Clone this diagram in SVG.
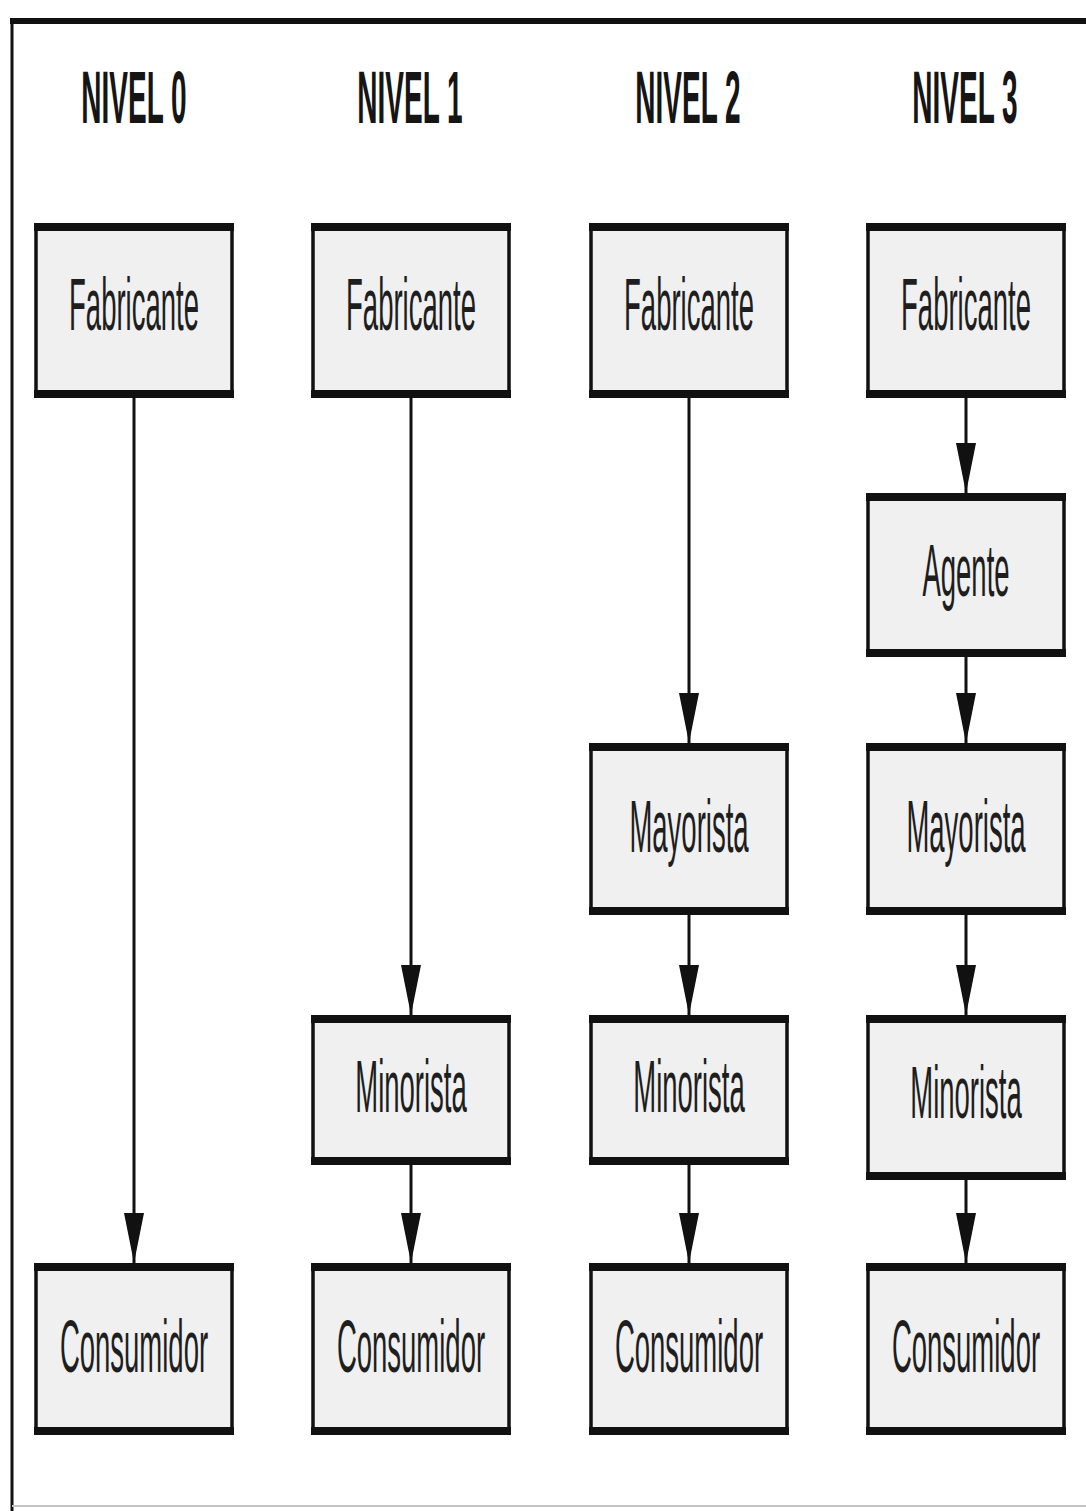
<svg xmlns="http://www.w3.org/2000/svg" width="1086" height="1511" viewBox="0 0 1086 1511">
  <style>
    .frame { fill: none; stroke: #111; }
    .box { fill: #f0f0f0; stroke: #111; stroke-width: 3.5; }
    .bar { fill: #111; }
    .lbl { font-family: "Liberation Sans", Arial, sans-serif; font-size: 27.5px; fill: #1e1e1e; text-anchor: middle; }
    .hdr { font-family: "Liberation Sans", Arial, sans-serif; font-size: 28px; font-weight: bold; fill: #151515; text-anchor: middle; }
    .edge { stroke: #111; stroke-width: 3; fill: none; marker-end: url(#head); }
  </style>
  <defs>
    <marker id="head" markerUnits="userSpaceOnUse" viewBox="0 0 50 20" markerWidth="50" markerHeight="20" refX="50" refY="10" orient="auto">
      <path d="M0,0 L50,10 L0,20 z" fill="#111"/>
    </marker>
  </defs>

  <rect width="1086" height="1511" fill="#ffffff"/>

  <!-- outer frame -->
  <g id="frame">
    <line class="frame" x1="10" y1="21" x2="1086" y2="21" stroke-width="6"/>
    <line class="frame" x1="12" y1="18" x2="12" y2="1511" stroke-width="3"/>
    <line x1="12" y1="1506" x2="1086" y2="1506" stroke="#c4c4c4" stroke-width="2"/>
  </g>

  <!-- column headings -->
  <g id="headings">
    <text class="hdr" transform="translate(134,123) scale(1,2.65)">NIVEL 0</text>
    <text class="hdr" transform="translate(410,123) scale(1,2.65)">NIVEL 1</text>
    <text class="hdr" transform="translate(688,123) scale(1,2.65)">NIVEL 2</text>
    <text class="hdr" transform="translate(965,123) scale(1,2.65)">NIVEL 3</text>
  </g>

  <!-- connectors -->
  <g id="connectors">
    <line class="edge" x1="134" y1="398" x2="134" y2="1263"/>
    <line class="edge" x1="411" y1="398" x2="411" y2="1015"/>
    <line class="edge" x1="411" y1="1165" x2="411" y2="1263"/>
    <line class="edge" x1="689" y1="398" x2="689" y2="743"/>
    <line class="edge" x1="689" y1="915" x2="689" y2="1015"/>
    <line class="edge" x1="689" y1="1165" x2="689" y2="1263"/>
    <line class="edge" x1="966" y1="398" x2="966" y2="493"/>
    <line class="edge" x1="966" y1="657" x2="966" y2="743"/>
    <line class="edge" x1="966" y1="915" x2="966" y2="1015"/>
    <line class="edge" x1="966" y1="1180" x2="966" y2="1263"/>
  </g>

  <!-- NIVEL 0 -->
  <g id="n0-fabricante">
    <rect class="box" x="36" y="225" width="196" height="171"/>
    <rect class="bar" x="34" y="223" width="200" height="8"/>
    <rect class="bar" x="34" y="390" width="200" height="8"/>
    <text class="lbl" transform="translate(134,330) scale(1,2.7)">Fabricante</text>
  </g>
  <g id="n0-consumidor">
    <rect class="box" x="36" y="1265" width="196" height="168"/>
    <rect class="bar" x="34" y="1263" width="200" height="8"/>
    <rect class="bar" x="34" y="1427" width="200" height="8"/>
    <text class="lbl" transform="translate(134,1372) scale(1,2.7)">Consumidor</text>
  </g>

  <!-- NIVEL 1 -->
  <g id="n1-fabricante">
    <rect class="box" x="313" y="225" width="196" height="171"/>
    <rect class="bar" x="311" y="223" width="200" height="8"/>
    <rect class="bar" x="311" y="390" width="200" height="8"/>
    <text class="lbl" transform="translate(411,330) scale(1,2.7)">Fabricante</text>
  </g>
  <g id="n1-minorista">
    <rect class="box" x="313" y="1017" width="196" height="146"/>
    <rect class="bar" x="311" y="1015" width="200" height="8"/>
    <rect class="bar" x="311" y="1157" width="200" height="8"/>
    <text class="lbl" transform="translate(411,1112) scale(1,2.7)">Minorista</text>
  </g>
  <g id="n1-consumidor">
    <rect class="box" x="313" y="1265" width="196" height="168"/>
    <rect class="bar" x="311" y="1263" width="200" height="8"/>
    <rect class="bar" x="311" y="1427" width="200" height="8"/>
    <text class="lbl" transform="translate(411,1372) scale(1,2.7)">Consumidor</text>
  </g>

  <!-- NIVEL 2 -->
  <g id="n2-fabricante">
    <rect class="box" x="591" y="225" width="196" height="171"/>
    <rect class="bar" x="589" y="223" width="200" height="8"/>
    <rect class="bar" x="589" y="390" width="200" height="8"/>
    <text class="lbl" transform="translate(689,330) scale(1,2.7)">Fabricante</text>
  </g>
  <g id="n2-mayorista">
    <rect class="box" x="591" y="745" width="196" height="168"/>
    <rect class="bar" x="589" y="743" width="200" height="8"/>
    <rect class="bar" x="589" y="907" width="200" height="8"/>
    <text class="lbl" transform="translate(689,852) scale(1,2.7)">Mayorista</text>
  </g>
  <g id="n2-minorista">
    <rect class="box" x="591" y="1017" width="196" height="146"/>
    <rect class="bar" x="589" y="1015" width="200" height="8"/>
    <rect class="bar" x="589" y="1157" width="200" height="8"/>
    <text class="lbl" transform="translate(689,1112) scale(1,2.7)">Minorista</text>
  </g>
  <g id="n2-consumidor">
    <rect class="box" x="591" y="1265" width="196" height="168"/>
    <rect class="bar" x="589" y="1263" width="200" height="8"/>
    <rect class="bar" x="589" y="1427" width="200" height="8"/>
    <text class="lbl" transform="translate(689,1372) scale(1,2.7)">Consumidor</text>
  </g>

  <!-- NIVEL 3 -->
  <g id="n3-fabricante">
    <rect class="box" x="868" y="225" width="196" height="171"/>
    <rect class="bar" x="866" y="223" width="200" height="8"/>
    <rect class="bar" x="866" y="390" width="200" height="8"/>
    <text class="lbl" transform="translate(966,330) scale(1,2.7)">Fabricante</text>
  </g>
  <g id="n3-agente">
    <rect class="box" x="868" y="495" width="196" height="160"/>
    <rect class="bar" x="866" y="493" width="200" height="8"/>
    <rect class="bar" x="866" y="649" width="200" height="8"/>
    <text class="lbl" transform="translate(966,596) scale(1,2.7)">Agente</text>
  </g>
  <g id="n3-mayorista">
    <rect class="box" x="868" y="745" width="196" height="168"/>
    <rect class="bar" x="866" y="743" width="200" height="8"/>
    <rect class="bar" x="866" y="907" width="200" height="8"/>
    <text class="lbl" transform="translate(966,852) scale(1,2.7)">Mayorista</text>
  </g>
  <g id="n3-minorista">
    <rect class="box" x="868" y="1017" width="196" height="161"/>
    <rect class="bar" x="866" y="1015" width="200" height="8"/>
    <rect class="bar" x="866" y="1172" width="200" height="8"/>
    <text class="lbl" transform="translate(966,1118) scale(1,2.7)">Minorista</text>
  </g>
  <g id="n3-consumidor">
    <rect class="box" x="868" y="1265" width="196" height="168"/>
    <rect class="bar" x="866" y="1263" width="200" height="8"/>
    <rect class="bar" x="866" y="1427" width="200" height="8"/>
    <text class="lbl" transform="translate(966,1372) scale(1,2.7)">Consumidor</text>
  </g>
</svg>
